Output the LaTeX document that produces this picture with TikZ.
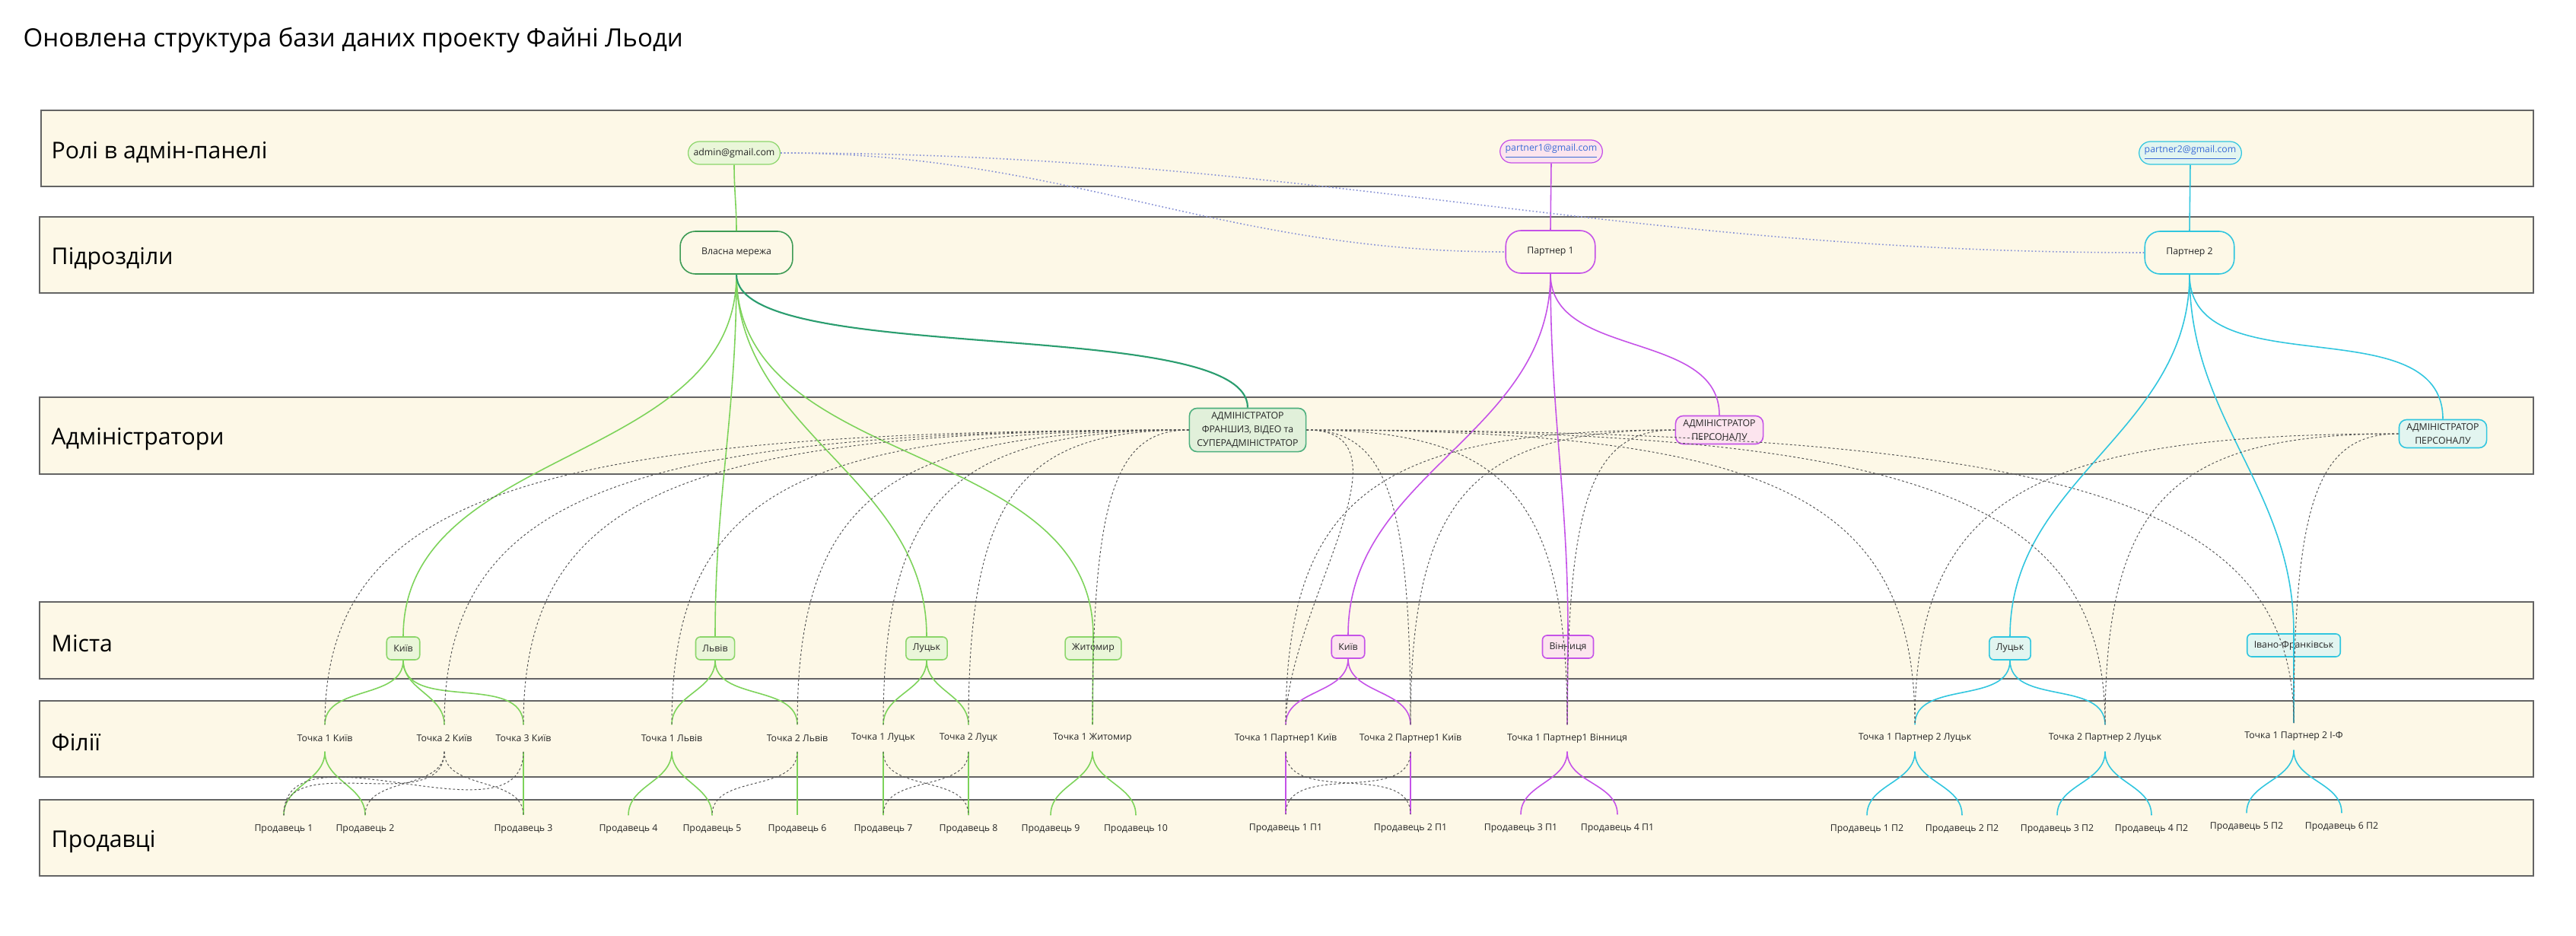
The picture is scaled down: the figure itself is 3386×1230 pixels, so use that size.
\documentclass[tikz,border=0pt]{standalone}
\usepackage{fontspec}
\setmainfont{Open Sans}
\usepackage{tikz}
\usetikzlibrary{calc}
\definecolor{bandfill}{RGB}{253,248,231}
\definecolor{bandline}{RGB}{100,100,100}
\definecolor{ownline}{RGB}{125,211,90}
\definecolor{ownborder}{RGB}{140,214,107}
\definecolor{ownfill}{RGB}{234,246,217}
\definecolor{owndark}{RGB}{62,155,85}
\definecolor{frline}{RGB}{42,157,111}
\definecolor{frborder}{RGB}{76,175,125}
\definecolor{frfill}{RGB}{225,240,218}
\definecolor{pone}{RGB}{197,82,232}
\definecolor{ponefill}{RGB}{252,228,238}
\definecolor{ptwo}{RGB}{49,198,223}
\definecolor{ptwofill}{RGB}{226,245,240}
\definecolor{mailblue}{RGB}{59,107,214}
\definecolor{roleline}{RGB}{140,150,215}
\definecolor{linkgray}{RGB}{85,85,85}
\tikzset{
  band_box/.style = {draw=bandline, fill=bandfill, line width=0.5pt},% смуга рівня
  band_label/.style = {anchor=west, inner sep=0pt,
    font=\fontsize{8.6}{10}\selectfont},% назва рівня
  small_node/.style = {align=center, inner sep=0pt, text=black!85,
    font=\fontsize{3.5}{5.1}\selectfont},
  mail_node/.style = {small_node, draw, line width=0.35pt,
    rounded corners=0.15cm, minimum height=0.30cm, inner xsep=0.07cm},% пошта
  unit_node/.style = {small_node, draw, fill=bandfill, line width=0.45pt,
    rounded corners=0.2cm, minimum height=0.56cm, inner xsep=0.28cm},% підрозділ
  admin_node/.style = {small_node, draw, line width=0.45pt,
    rounded corners=0.1cm, inner xsep=0.1cm, inner ysep=0.05cm},% адміністратор
  city_node/.style = {small_node, draw, line width=0.45pt,
    rounded corners=0.06cm, minimum height=0.30cm, inner xsep=0.09cm},% місто
  point_node/.style = {small_node, minimum height=0.34cm},% філія
  seller_node/.style = {small_node, minimum height=0.36cm},% продавець
  tree_link/.style = {line width=0.45pt},
  own_link/.style = {tree_link, draw=ownline},
  fr_link/.style = {line width=0.6pt, draw=frline},
  p1_link/.style = {tree_link, draw=pone},
  p2_link/.style = {tree_link, draw=ptwo},
  role_link/.style = {draw=roleline, line width=0.45pt, dash pattern=on 0.5pt off 0.8pt},
  staff_link/.style = {draw=linkgray, line width=0.28pt, dash pattern=on 0.8pt off 0.8pt},
  adm_curve/.style = {to path={let \p1=(\tikztostart), \p2=(\tikztotarget) in
    .. controls ({\x1+0.76*(\x2-\x1)},\y1) and (\x2,{\y1+0.22*(\y2-\y1)}) .. (\tikztotarget)}}
}
\begin{document}
\begin{tikzpicture}[x=0.01cm, y=0.01cm]
  \fill[white] (0,0) rectangle (3386,-1230);
  \useasboundingbox (0,0) rectangle (3386,-1230);
  \node[anchor=west, inner sep=0pt, font=\fontsize{9.4}{11}\selectfont] (title) at (30,-53)
    {Оновлена структура бази даних проекту Файні Льоди};

  % рівні
  \draw[band_box] (54,-145) rectangle (3330,-245);
  \draw[band_box] (52,-285) rectangle (3330,-385);
  \draw[band_box] (52,-522) rectangle (3330,-623);
  \draw[band_box] (52,-791) rectangle (3330,-892);
  \draw[band_box] (52,-921) rectangle (3330,-1021);
  \draw[band_box] (52,-1051) rectangle (3330,-1151);
  \node[band_label] (l_roles) at (67,-200) {Ролі в адмін-панелі};
  \node[band_label] (l_units) at (67,-340) {Підрозділи};
  \node[band_label] (l_admins) at (67,-577) {Адміністратори};
  \node[band_label] (l_cities) at (67,-846) {Міста};
  \node[band_label] (l_points) at (67,-976) {Філії};
  \node[band_label] (l_sellers) at (67,-1106) {Продавці};

  % ролі та підрозділи
  \node[mail_node, draw=ownborder, fill=ownfill] (admin_mail) at (965,-201) {admin@gmail.com};
  \node[mail_node, draw=pone, fill=ponefill, text=mailblue] (p1_mail) at (2039,-199) {\underline{partner1@gmail.com}};
  \node[mail_node, draw=ptwo, fill=ptwofill, text=mailblue] (p2_mail) at (2879,-201) {\underline{partner2@gmail.com}};
  \node[unit_node, draw=owndark] (own_net) at (968,-332) {Власна мережа};
  \node[unit_node, draw=pone] (partner1) at (2038,-331) {Партнер 1};
  \node[unit_node, draw=ptwo] (partner2) at (2878,-332) {Партнер 2};

  % адміністратори
  \node[admin_node, draw=frborder, fill=frfill] (adm_fr) at (1640,-565)
    {АДМІНІСТРАТОР\\ФРАНШИЗ, ВІДЕО та\\СУПЕРАДМІНІСТРАТОР};
  \node[admin_node, draw=pone, fill=ponefill] (adm_p1) at (2260,-565) {АДМІНІСТРАТОР\\ПЕРСОНАЛУ};
  \node[admin_node, draw=ptwo, fill=ptwofill] (adm_p2) at (3211,-570) {АДМІНІСТРАТОР\\ПЕРСОНАЛУ};

  % міста
  \node[city_node, draw=ownborder, fill=ownfill] (c_kyiv) at (530,-852) {Київ};
  \node[city_node, draw=ownborder, fill=ownfill] (c_lviv) at (940,-852) {Львів};
  \node[city_node, draw=ownborder, fill=ownfill] (c_lutsk) at (1218,-852) {Луцьк};
  \node[city_node, draw=ownborder, fill=ownfill] (c_zhyt) at (1437,-852) {Житомир};
  \node[city_node, draw=pone, fill=ponefill] (c1_kyiv) at (1772,-850) {Київ};
  \node[city_node, draw=pone, fill=ponefill] (c1_vinn) at (2061,-850) {Вінниця};
  \node[city_node, draw=ptwo, fill=ptwofill] (c2_lutsk) at (2642,-852) {Луцьк};
  \node[city_node, draw=ptwo, fill=ptwofill] (c2_ivf) at (3015,-848) {Івано-Франківськ};

  % філії
  \node[point_node] (t_k1) at (427,-970) {Точка 1 Київ};
  \node[point_node] (t_k2) at (584,-970) {Точка 2 Київ};
  \node[point_node] (t_k3) at (688,-970) {Точка 3 Київ};
  \node[point_node] (t_l1) at (883,-970) {Точка 1 Львів};
  \node[point_node] (t_l2) at (1048,-970) {Точка 2 Львів};
  \node[point_node] (t_lu1) at (1161,-970) {Точка 1 Луцьк};
  \node[point_node] (t_lu2) at (1273,-970) {Точка 2 Луцк};
  \node[point_node] (t_zh1) at (1436,-970) {Точка 1 Житомир};
  \node[point_node] (t_p1k1) at (1690,-970) {Точка 1 Партнер1 Київ};
  \node[point_node] (t_p1k2) at (1854,-970) {Точка 2 Партнер1 Київ};
  \node[point_node] (t_p1v1) at (2060,-970) {Точка 1 Партнер1 Вінниця};
  \node[point_node] (t_p2l1) at (2517,-970) {Точка 1 Партнер 2 Луцьк};
  \node[point_node] (t_p2l2) at (2767,-970) {Точка 2 Партнер 2 Луцьк};
  \node[point_node] (t_p2if) at (3015,-968) {Точка 1 Партнер 2 І-Ф};

  % продавці
  \node[seller_node] (s_1) at (373,-1090) {Продавець 1};
  \node[seller_node] (s_2) at (480,-1090) {Продавець 2};
  \node[seller_node] (s_3) at (688,-1090) {Продавець 3};
  \node[seller_node] (s_4) at (826,-1090) {Продавець 4};
  \node[seller_node] (s_5) at (936,-1090) {Продавець 5};
  \node[seller_node] (s_6) at (1048,-1090) {Продавець 6};
  \node[seller_node] (s_7) at (1161,-1090) {Продавець 7};
  \node[seller_node] (s_8) at (1273,-1090) {Продавець 8};
  \node[seller_node] (s_9) at (1381,-1090) {Продавець 9};
  \node[seller_node] (s_10) at (1493,-1090) {Продавець 10};
  \node[seller_node] (s1_1) at (1690,-1089) {Продавець 1 П1};
  \node[seller_node] (s1_2) at (1854,-1089) {Продавець 2 П1};
  \node[seller_node] (s1_3) at (1999,-1089) {Продавець 3 П1};
  \node[seller_node] (s1_4) at (2126,-1089) {Продавець 4 П1};
  \node[seller_node] (s2_1) at (2454,-1090) {Продавець 1 П2};
  \node[seller_node] (s2_2) at (2579,-1090) {Продавець 2 П2};
  \node[seller_node] (s2_3) at (2704,-1090) {Продавець 3 П2};
  \node[seller_node] (s2_4) at (2828,-1090) {Продавець 4 П2};
  \node[seller_node] (s2_5) at (2953,-1087) {Продавець 5 П2};
  \node[seller_node] (s2_6) at (3078,-1087) {Продавець 6 П2};

  % власна мережа
  \draw[own_link] (admin_mail.south) to[out=-90,in=90] (own_net.north);
  \draw[own_link] (own_net.south) to[out=-90,in=90] (c_kyiv.north);
  \draw[own_link] (own_net.south) to[out=-90,in=90] (c_lviv.north);
  \draw[own_link] (own_net.south) to[out=-90,in=90] (c_lutsk.north);
  \draw[own_link] (own_net.south) to[out=-90,in=90] (c_zhyt.north);
  \draw[own_link] (c_zhyt.north) -- (t_zh1.north);
  \draw[fr_link] (own_net.south) to[out=-90,in=90,looseness=0.45] (adm_fr.north);
  \draw[own_link] (c_kyiv.south) to[out=-90,in=90] (t_k1.north);
  \draw[own_link] (c_kyiv.south) to[out=-90,in=90] (t_k2.north);
  \draw[own_link] (c_kyiv.south) to[out=-90,in=90] (t_k3.north);
  \draw[own_link] (c_lviv.south) to[out=-90,in=90] (t_l1.north);
  \draw[own_link] (c_lviv.south) to[out=-90,in=90] (t_l2.north);
  \draw[own_link] (c_lutsk.south) to[out=-90,in=90] (t_lu1.north);
  \draw[own_link] (c_lutsk.south) to[out=-90,in=90] (t_lu2.north);
  \draw[own_link] (t_k1.south) to[out=-90,in=90] (s_1.north);
  \draw[own_link] (t_k1.south) to[out=-90,in=90] (s_2.north);
  \draw[own_link] (t_k3.south) -- (s_3.north);
  \draw[own_link] (t_l1.south) to[out=-90,in=90] (s_4.north);
  \draw[own_link] (t_l1.south) to[out=-90,in=90] (s_5.north);
  \draw[own_link] (t_l2.south) -- (s_6.north);
  \draw[own_link] (t_lu1.south) -- (s_7.north);
  \draw[own_link] (t_lu2.south) -- (s_8.north);
  \draw[own_link] (t_zh1.south) to[out=-90,in=90] (s_9.north);
  \draw[own_link] (t_zh1.south) to[out=-90,in=90] (s_10.north);

  % партнер 1
  \draw[p1_link] (p1_mail.south) -- (partner1.north);
  \draw[p1_link] (partner1.south) to[out=-90,in=90] (c1_kyiv.north);
  \draw[p1_link] (partner1.south) to[out=-90,in=90] (c1_vinn.north);
  \draw[p1_link] (partner1.south) to[out=-90,in=90] (adm_p1.north);
  \draw[p1_link] (c1_vinn.north) -- (t_p1v1.north);
  \draw[p1_link] (c1_kyiv.south) to[out=-90,in=90] (t_p1k1.north);
  \draw[p1_link] (c1_kyiv.south) to[out=-90,in=90] (t_p1k2.north);
  \draw[p1_link] (t_p1k1.south) -- (s1_1.north);
  \draw[p1_link] (t_p1k2.south) -- (s1_2.north);
  \draw[p1_link] (t_p1v1.south) to[out=-90,in=90] (s1_3.north);
  \draw[p1_link] (t_p1v1.south) to[out=-90,in=90] (s1_4.north);

  % партнер 2
  \draw[p2_link] (p2_mail.south) -- (partner2.north);
  \draw[p2_link] (partner2.south) to[out=-90,in=90] (c2_lutsk.north);
  \draw[p2_link] (partner2.south) to[out=-90,in=90] (c2_ivf.north);
  \draw[p2_link] (partner2.south) to[out=-90,in=90] (adm_p2.north);
  \draw[p2_link] (c2_ivf.north) -- (t_p2if.north);
  \draw[p2_link] (c2_lutsk.south) to[out=-90,in=90] (t_p2l1.north);
  \draw[p2_link] (c2_lutsk.south) to[out=-90,in=90] (t_p2l2.north);
  \draw[p2_link] (t_p2l1.south) to[out=-90,in=90] (s2_1.north);
  \draw[p2_link] (t_p2l1.south) to[out=-90,in=90] (s2_2.north);
  \draw[p2_link] (t_p2l2.south) to[out=-90,in=90] (s2_3.north);
  \draw[p2_link] (t_p2l2.south) to[out=-90,in=90] (s2_4.north);
  \draw[p2_link] (t_p2if.south) to[out=-90,in=90] (s2_5.north);
  \draw[p2_link] (t_p2if.south) to[out=-90,in=90] (s2_6.north);

  % ролі
  \draw[role_link] (admin_mail.east) to[out=0,in=180] (partner1.west);
  \draw[role_link] (admin_mail.east) to[out=0,in=180] (partner2.west);

  % доступ адміністраторів
  \draw[staff_link] (adm_fr.west) to[adm_curve] (t_k1.north);
  \draw[staff_link] (adm_fr.west) to[adm_curve] (t_k2.north);
  \draw[staff_link] (adm_fr.west) to[adm_curve] (t_k3.north);
  \draw[staff_link] (adm_fr.west) to[adm_curve] (t_l1.north);
  \draw[staff_link] (adm_fr.west) to[adm_curve] (t_l2.north);
  \draw[staff_link] (adm_fr.west) to[adm_curve] (t_lu1.north);
  \draw[staff_link] (adm_fr.west) to[adm_curve] (t_lu2.north);
  \draw[staff_link] (adm_fr.west) to[adm_curve] (t_zh1.north);
  \draw[staff_link] (adm_fr.east) to[out=0,in=90] (t_p1k1.north);
  \draw[staff_link] (adm_fr.east) to[adm_curve] (t_p1k2.north);
  \draw[staff_link] (adm_fr.east) to[adm_curve] (t_p1v1.north);
  \draw[staff_link] (adm_fr.east) to[adm_curve] (t_p2l1.north);
  \draw[staff_link] (adm_fr.east) to[adm_curve] (t_p2l2.north);
  \draw[staff_link] (adm_fr.east) to[adm_curve] (t_p2if.north);
  \draw[staff_link] (adm_p1.west) to[adm_curve] (t_p1k1.north);
  \draw[staff_link] (adm_p1.west) to[adm_curve] (t_p1k2.north);
  \draw[staff_link] (adm_p1.west) to[adm_curve] (t_p1v1.north);
  \draw[staff_link] (adm_p2.west) to[adm_curve] (t_p2l1.north);
  \draw[staff_link] (adm_p2.west) to[adm_curve] (t_p2l2.north);
  \draw[staff_link] (adm_p2.west) to[adm_curve] (t_p2if.north);

  % продавці на кількох точках
  \draw[staff_link] (t_k2.south) to[out=-90,in=90] (s_1.north);
  \draw[staff_link] (t_k2.south) to[out=-90,in=90] (s_2.north);
  \draw[staff_link] (t_k2.south) to[out=-90,in=90] (s_3.north);
  \draw[staff_link] (t_k3.south) to[out=-90,in=90] (s_1.north);
  \draw[staff_link] (t_l2.south) to[out=-90,in=90] (s_5.north);
  \draw[staff_link] (t_lu1.south) to[out=-90,in=90] (s_8.north);
  \draw[staff_link] (t_lu2.south) to[out=-90,in=90] (s_7.north);
  \draw[staff_link] (t_p1k1.south) to[out=-90,in=90] (s1_2.north);
  \draw[staff_link] (t_p1k2.south) to[out=-90,in=90] (s1_1.north);
\end{tikzpicture}
\end{document}
